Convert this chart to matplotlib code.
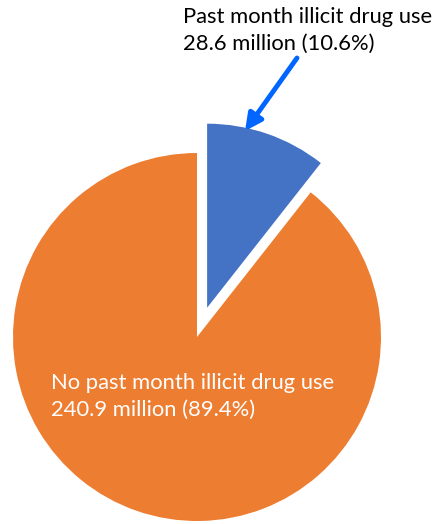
import matplotlib.pyplot as plt

labels = ["Past month illicit drug use", "No past month illicit drug use"]
millions = [28.6, 240.9]
percents = [10.6, 89.4]
colors = ["#4472C4", "#ED7D31"]

plt.rcParams['font.family'] = ['Lato', 'DejaVu Sans']

W, H = 438, 524
fig = plt.figure(figsize=(W / 100, H / 100), dpi=100)
ax = fig.add_axes([0, 0, 1, 1])

# pie drawn in pixel coordinates (y measured from bottom)
cx, cy, r = 197, H - 337, 184
ax.pie(percents, colors=colors, startangle=90, counterclock=False,
       explode=[31, 0], radius=r, center=(cx, cy),
       wedgeprops=dict(linewidth=0))
ax.set_xlim(0, W)
ax.set_ylim(0, H)
ax.set_aspect('equal')
ax.axis('off')

txt_blue = f"{labels[0]}\n{millions[0]} million ({percents[0]}%)"
txt_orange = f"{labels[1]}\n{millions[1]} million ({percents[1]}%)"

ax.text(183, H - 7, txt_blue, ha='left', va='top', fontsize=15.8,
        color='black', linespacing=1.42)
ax.text(51, H - 373, txt_orange, ha='left', va='top', fontsize=15.8,
        color='white', linespacing=1.42)

ax.annotate("", xy=(245, H - 131), xytext=(297, H - 58),
            arrowprops=dict(arrowstyle='-|>,head_length=1.0,head_width=0.5',
                            color='#0066FF', lw=3.5, shrinkA=0, shrinkB=0))

fig.savefig("out.png", dpi=100)
